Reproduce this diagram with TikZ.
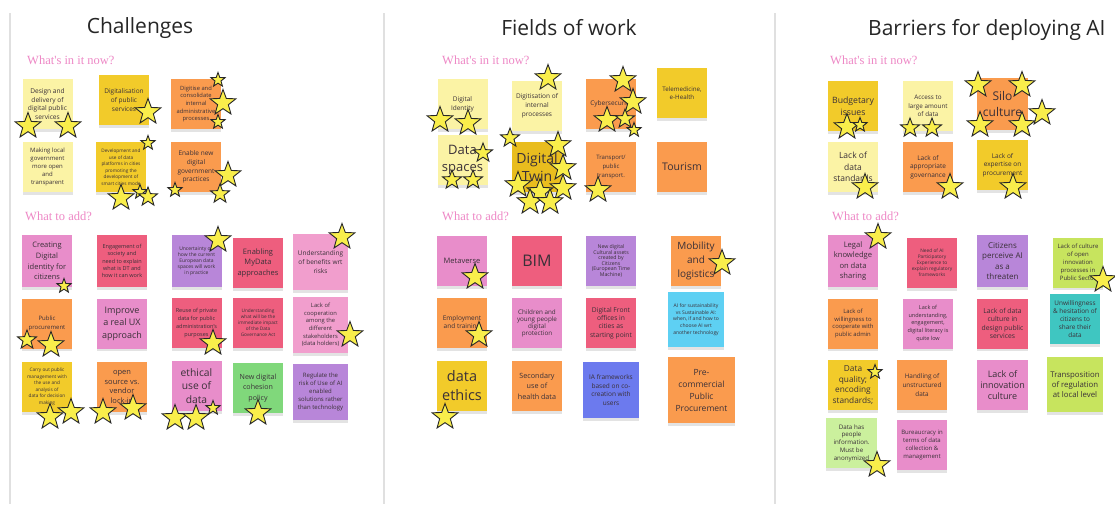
\documentclass[tikz,border=0pt]{standalone}
\usepackage{fontspec}
\setmainfont{Open Sans}
\newfontfamily\lblfont{Liberation Serif}
\usetikzlibrary{shapes.geometric,shadows}
\definecolor{pyel}{HTML}{FBF3A5}
\definecolor{yel}{HTML}{F2CB2A}
\definecolor{dyel}{HTML}{E9BD1E}
\definecolor{ora}{HTML}{FA9B4E}
\definecolor{pnk}{HTML}{E88DCA}
\definecolor{lpnk}{HTML}{F19ECD}
\definecolor{rpk}{HTML}{EE5E7E}
\definecolor{pur}{HTML}{B886D9}
\definecolor{grn}{HTML}{80D87B}
\definecolor{sky}{HTML}{5ED0F3}
\definecolor{blu}{HTML}{6C7AEE}
\definecolor{lim}{HTML}{C7E45E}
\definecolor{tea}{HTML}{3FC6C1}
\definecolor{lgr}{HTML}{CBF09D}
\definecolor{starf}{HTML}{F9EE4B}
\definecolor{lblpink}{HTML}{EE88C6}
\definecolor{txt}{HTML}{3A3038}
\newcommand\fz[2]{\fontsize{#1}{#2}\selectfont}
\begin{document}
\begin{tikzpicture}[x=1pt,y=-1pt,
 note/.style={rectangle, minimum width=50pt, minimum height=50pt, inner sep=0pt, align=center, text=txt,
   drop shadow={shadow xshift=0pt, shadow yshift=-2.5pt, opacity=0.22}},
 st/.style={star, star points=5, star point ratio=2.4, draw=black!85, line width=0.9pt, fill=starf, inner sep=0pt, minimum size=27pt},
 sm/.style={st, minimum size=15pt},
 md/.style={st, minimum size=20pt},
 head/.style={font=\fz{21}{25}, text=black!85, inner sep=0pt},
 lbl/.style={font=\lblfont\fz{12.5}{14}, text=lblpink, anchor=west, inner sep=0pt},
 sep/.style={draw=black!12, line width=1.2pt}]
\useasboundingbox[fill=white] (0,0) rectangle (1115,504);
\draw[sep] (10,13) -- (10,504);
\draw[sep] (384,13) -- (384,504);
\draw[sep] (775,13) -- (775,504);
% headers
\node[head] (h1) at (140,28) {Challenges};
\node[head] (h2) at (569,28) {Fields of work};
\node[head, anchor=west] (h3) at (868,30) {Barriers for deploying AI};
\node[lbl] (l1a) at (27,60) {What's in it now?};
\node[lbl] (l2a) at (442,60) {What's in it now?};
\node[lbl] (l3a) at (830,60) {What's in it now?};
\node[lbl] (l1b) at (25,216) {What to add?};
\node[lbl] (l2b) at (442,216) {What to add?};
\node[lbl] (l3b) at (832,216) {What to add?};
% ---------- column 1 ----------
\node[note, fill=pyel, font=\fz{6.6}{8.9}] (c1a) at (47.5,104) {Design and\\delivery of\\digital public\\services};
\node[note, fill=yel, font=\fz{6.5}{8.7}] (c1b) at (124,100) {Digitalisation\\of public\\services};
\node[note, fill=ora, font=\fz{5.8}{7.7}] (c1c) at (196,104) {Digitise and\\consolidate\\internal\\administrative\\processes};
\node[note, fill=pyel, font=\fz{6}{8.2}] (c1d) at (47.5,167) {Making local\\government\\more open\\and\\transparent};
\node[note, fill=yel, font=\fz{4.7}{6.5}] (c1e) at (121,167) {Development and\\use of data\\platforms in cities\\promoting the\\development of\\smart cities mode};
\node[note, fill=ora, font=\fz{6.5}{8.7}] (c1f) at (196,167) {Enable new\\digital\\government\\practices};
\node[note, fill=pnk, minimum height=52pt, font=\fz{7.5}{10.7}] (c1g) at (47,261) {Creating\\Digital\\identity for\\citizens};
\node[note, fill=rpk, minimum height=52pt, font=\fz{5.5}{7.3}] (c1h) at (122,261) {Engagement of\\society and\\need to explain\\what is DT and\\how it can work};
\node[note, fill=pur, minimum height=52pt, font=\fz{5}{6}] (c1i) at (196.5,261) {Uncertainty on\\how the current\\European data\\spaces will work\\in practice};
\node[note, fill=rpk, font=\fz{7.5}{10.4}] (c1j) at (258,263) {Enabling\\MyData\\approaches};
\node[note, fill=lpnk, minimum width=55pt, minimum height=56pt, font=\fz{6.5}{8.8}] (c1k) at (320.5,262) {Understanding\\of benefits wrt\\risks};
\node[note, fill=ora, font=\fz{6}{9.5}] (c1l) at (47,323.5) {Public\\procurement};
\node[note, fill=pnk, font=\fz{9}{12.5}] (c1m) at (122,323.5) {Improve\\a real UX\\approach};
\node[note, fill=rpk, font=\fz{5.5}{7.9}] (c1n) at (196.5,323) {Reuse of private\\data for public\\administration's\\purposes};
\node[note, fill=rpk, font=\fz{4.7}{6}] (c1o) at (258,323) {Understanding\\what will be the\\immediate impact\\of the Data\\Governance Act};
\node[note, fill=lpnk, minimum width=55pt, minimum height=56pt, font=\fz{5.8}{7.6}] (c1p) at (320.5,325) {Lack of\\cooperation\\among the\\different\\stakeholders\\(data holders)};
\node[note, fill=yel, font=\fz{4.7}{6.5}] (c1q) at (47,387) {Carry out public\\management with\\the use and\\analysis of\\data for decision\\making};
\node[note, fill=ora, font=\fz{7.5}{9.6}] (c1r) at (122,387) {open\\source vs.\\vendor\\lock-in};
\node[note, fill=pnk, font=\fz{10.3}{13.3}] (c1s) at (196.5,386) {ethical\\use of\\data};
\node[note, fill=grn, font=\fz{7.1}{10.3}] (c1t) at (258,388) {New digital\\cohesion\\policy};
\node[note, fill=pur, minimum width=55pt, minimum height=56pt, font=\fz{6}{8.2}] (c1u) at (320.5,392) {Regulate the\\risk of Use of AI\\enabled\\solutions rather\\than technology};
% ---------- column 2 ----------
\node[note, fill=pyel, font=\fz{6.5}{9}] (c2a) at (462.5,104) {Digital\\Identity};
\node[note, fill=pyel, font=\fz{6.5}{9}] (c2b) at (537,106) {Digitisation of\\internal\\processes};
\node[note, fill=ora, font=\fz{6.5}{9}] (c2c) at (611,104) {Cybersecurity};
\node[note, fill=yel, font=\fz{6.2}{8.3}] (c2d) at (682,93) {Telemedicine,\\e-Health};
\node[note, fill=pyel, font=\fz{13}{17}] (c2e) at (462.5,160) {Data\\spaces};
\node[note, fill=dyel, font=\fz{14}{18}] (c2f) at (537,167) {Digital\\Twin};
\node[note, fill=ora, font=\fz{6}{9}] (c2g) at (611,167) {Transport/\\public\\transport.};
\node[note, fill=ora, font=\fz{10.5}{13}] (c2h) at (682,167) {Tourism};
\node[note, fill=pnk, font=\fz{7.5}{9}] (c2i) at (462,261) {Metaverse};
\node[note, fill=rpk, font=\fz{16}{18}] (c2j) at (537,261) {BIM};
\node[note, fill=pur, font=\fz{5.2}{5.6}] (c2k) at (611,261) {New digital\\Cultural assets\\created by\\Citizens\\(European Time\\Machine)};
\node[note, fill=ora, font=\fz{10}{14}] (c2l) at (696,261) {Mobility\\and\\logistics};
\node[note, fill=ora, font=\fz{6.5}{8.5}] (c2m) at (462,323) {Employment\\and training};
\node[note, fill=pnk, font=\fz{6.3}{7}] (c2n) at (537,323) {Children and\\young people\\digital\\protection};
\node[note, fill=rpk, font=\fz{6.7}{8.4}] (c2o) at (611,323) {Digital Front\\offices in\\cities as\\starting point};
\node[note, fill=sky, minimum width=56pt, minimum height=55pt, font=\fz{5}{6.7}] (c2p) at (696,319.5) {AI for sustainability\\vs Sustainable AI:\\when, if and how to\\choose AI wrt\\another technology};
\node[note, fill=yel, font=\fz{14.5}{19}] (c2q) at (462,386) {data\\ethics};
\node[note, fill=ora, font=\fz{7.2}{10.3}] (c2r) at (537,386) {Secondary\\use of\\health data};
\node[note, fill=blu, minimum width=56pt, minimum height=56pt, font=\fz{6.5}{8.9}] (c2s) at (611,390) {IA frameworks\\based on co-\\creation with\\users};
\node[note, fill=ora, minimum width=67pt, minimum height=66pt, font=\fz{8.5}{12}] (c2t) at (701.5,390) {Pre-\\commercial\\Public\\Procurement};
% ---------- column 3 ----------
\node[note, fill=yel, font=\fz{8.7}{12.3}] (c3a) at (853,106) {Budgetary\\issues};
\node[note, fill=pyel, font=\fz{6.3}{8.3}] (c3b) at (928,106) {Access to\\large amount\\of data};
\node[note, fill=ora, minimum width=51pt, minimum height=52pt, font=\fz{12}{16}] (c3c) at (1002.5,104) {Silo\\culture};
\node[note, fill=pyel, font=\fz{8.5}{11.5}] (c3d) at (853,167) {Lack of\\data\\standards};
\node[note, fill=ora, font=\fz{6.5}{8.3}] (c3e) at (928,167) {Lack of\\appropriate\\governance};
\node[note, fill=yel, minimum width=51pt, font=\fz{6.5}{8.7}] (c3f) at (1002.5,165) {Lack of\\expertise on\\procurement};
\node[note, fill=pnk, minimum height=52pt, font=\fz{7.6}{10.2}] (c3g) at (853,261) {Legal\\knowledge\\on data\\sharing};
\node[note, fill=rpk, font=\fz{4.8}{6}] (c3h) at (932,263) {Need of AI\\Participatory\\Experience to\\explain regulatory\\frameworks};
\node[note, fill=pur, minimum width=51pt, minimum height=52pt, font=\fz{8}{10.2}] (c3i) at (1002.5,261) {Citizens\\perceive AI\\as a\\threaten};
\node[note, fill=lim, font=\fz{6}{8}] (c3j) at (1078,262.5) {Lack of culture\\of open\\innovation\\processes in\\Public Sector};
\node[note, fill=ora, font=\fz{5.9}{7.8}] (c3k) at (853,323.5) {Lack of\\willingness to\\cooperate with\\public admin};
\node[note, fill=pnk, font=\fz{5.5}{7.8}] (c3l) at (928,323.5) {Lack of\\understanding,\\engagement,\\digital literacy is\\quite low};
\node[note, fill=rpk, minimum width=51pt, font=\fz{6.8}{8.2}] (c3m) at (1002.5,323.5) {Lack of data\\culture in\\design public\\services};
\node[note, fill=tea, font=\fz{6.4}{8}] (c3n) at (1075,319) {Unwillingness\\\& hesitation of\\citizens to\\share their\\data};
\node[note, fill=yel, font=\fz{8.3}{10.4}] (c3o) at (853,385) {Data\\quality;\\encoding\\standards;};
\node[note, fill=ora, font=\fz{6.4}{9}] (c3p) at (922,385) {Handling of\\unstructured\\data};
\node[note, fill=pnk, minimum width=51pt, font=\fz{9}{11}] (c3q) at (1002.5,385) {Lack of\\innovation\\culture};
\node[note, fill=lim, minimum width=56pt, minimum height=55pt, font=\fz{7.8}{10}] (c3r) at (1075,384.5) {Transposition\\of regulation\\at local level};
\node[note, fill=lgr, minimum width=51pt, font=\fz{6.2}{7.7}] (c3s) at (851.5,443) {Data has\\people\\information.\\Must be\\anonymized};
\node[note, fill=pnk, font=\fz{6}{7.8}] (c3t) at (922,445) {Bureaucracy in\\terms of data\\collection \&\\management};
% ---------- stars column 1 ----------
\node[st] (s1) at (28,126) {};
\node[st] (s2) at (68,126) {};
\node[st] (s3) at (148,112) {};
\node[sm] (s4) at (218,80) {};
\node[st] (s5) at (223,103) {};
\node[sm] (s6) at (218,122) {};
\node[sm] (s7) at (148,143) {};
\node[st] (s8) at (121,198) {};
\node[sm] (s9) at (140,192) {};
\node[md] (s10) at (148,197) {};
\node[sm] (s11) at (175,190) {};
\node[st] (s12) at (228,175) {};
\node[md] (s13) at (220,194) {};
\node[sm] (s14) at (64,286) {};
\node[st] (s15) at (218,240) {};
\node[st] (s16) at (342,237) {};
\node[md] (s17) at (27,340) {};
\node[st] (s18) at (51,345) {};
\node[st] (s19) at (213,343) {};
\node[st] (s20) at (350,335) {};
\node[st] (s21) at (50,417) {};
\node[st] (s22) at (71,412) {};
\node[st] (s23) at (103,412) {};
\node[st] (s24) at (133,408) {};
\node[st] (s25) at (175,418) {};
\node[st] (s26) at (196,418) {};
\node[sm] (s27) at (213,408) {};
\node[st] (s28) at (258,413) {};
% ---------- stars column 2 ----------
\node[st] (t1) at (440,120) {};
\node[st] (t2) at (468,123) {};
\node[st] (t3) at (548,78) {};
\node[st] (t4) at (623,80) {};
\node[st] (t5) at (633,102) {};
\node[st] (t6) at (607,120) {};
\node[md] (t7) at (625,119) {};
\node[sm] (t8) at (634,130) {};
\node[md] (t9) at (510,138) {};
\node[md] (t10) at (483,153) {};
\node[md] (t11) at (452,180) {};
\node[md] (t12) at (473,180) {};
\node[st] (t13) at (558,145) {};
\node[st] (t14) at (563,168) {};
\node[st] (t15) at (563,188) {};
\node[st] (t16) at (518,185) {};
\node[st] (t17) at (540,192) {};
\node[st] (t18) at (530,202) {};
\node[st] (t19) at (550,202) {};
\node[st] (t20) at (598,190) {};
\node[st] (t21) at (475,277) {};
\node[st] (t22) at (722,263) {};
\node[st] (t23) at (479,335) {};
\node[st] (t24) at (445,417) {};
% ---------- stars column 3 ----------
\node[st] (u1) at (847,127) {};
\node[sm] (u2) at (860,125) {};
\node[md] (u3) at (910,128) {};
\node[md] (u4) at (932,128) {};
\node[st] (u5) at (978,85) {};
\node[st] (u6) at (1022,85) {};
\node[st] (u7) at (1042,113) {};
\node[st] (u8) at (980,125) {};
\node[st] (u9) at (1022,125) {};
\node[st] (u10) at (865,187) {};
\node[st] (u11) at (950,187) {};
\node[st] (u12) at (1013,187) {};
\node[st] (u13) at (878,237) {};
\node[st] (u14) at (1103,280) {};
\node[sm] (u15) at (875,372) {};
\node[st] (u16) at (877,465) {};
\end{tikzpicture}
\end{document}
